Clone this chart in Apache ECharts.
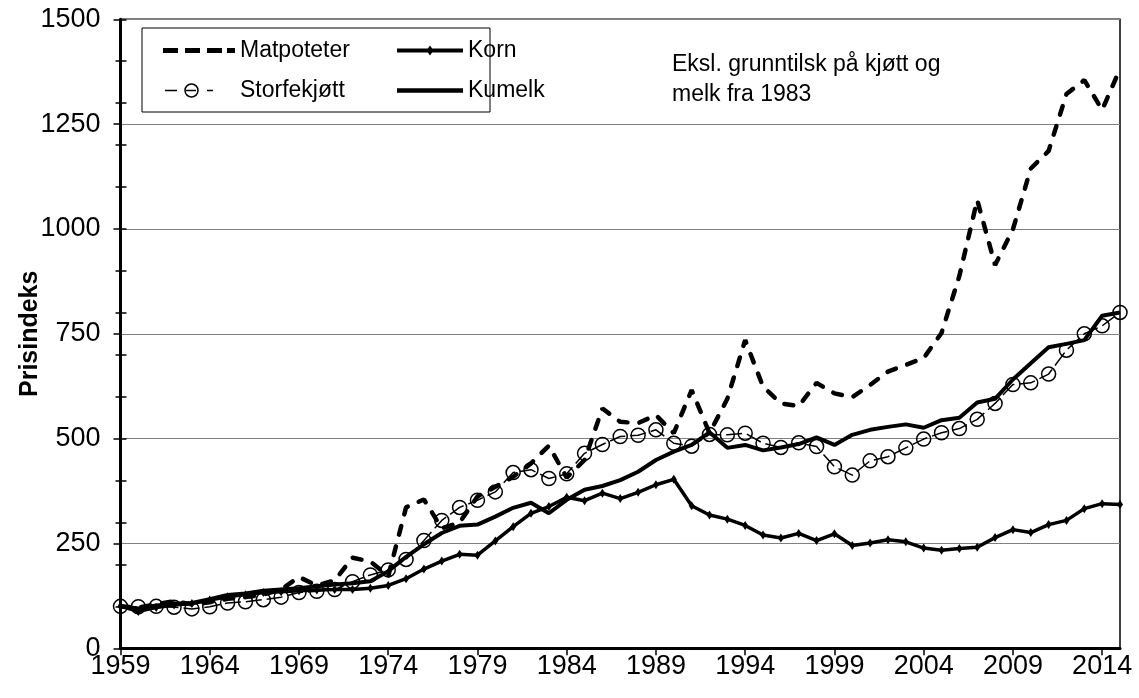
<!DOCTYPE html>
<html>
<head>
<meta charset="utf-8">
<script src="https://cdn.jsdelivr.net/npm/echarts@6/dist/echarts.min.js"></script>
<style>
  html, body { margin: 0; padding: 0; background: #fff; }
  #chart { width: 1139px; height: 698px; }
</style>
</head>
<body>
<div id="chart"></div>
<script>
// år 1959-2015
var years = [];
for (var y = 1959; y <= 2015; y++) years.push(String(y));

// prisindeks, 1959 = 100
var matpoteter = [100, 97, 105, 112, 105, 110, 118, 122, 128, 140,
  170, 150, 162, 216, 207, 172, 336, 355, 286, 300,
  362, 385, 409, 441, 483, 407, 449, 572, 540, 537,
  556, 513, 616, 513, 595, 735, 624, 584, 578, 633,
  608, 599, 628, 660, 676, 692, 752, 888, 1069, 914,
  999, 1144, 1186, 1322, 1355, 1284, 1382];
var korn = [100, 88, 97, 103, 107, 115, 123, 128, 133, 135,
  137, 139, 140, 140, 143, 150, 166, 189, 208, 224,
  222, 256, 290, 322, 338, 360, 352, 370, 357, 372,
  390, 403, 340, 318, 308, 293, 270, 263, 274, 257,
  273, 245, 251, 259, 254, 239, 234, 238, 241, 264,
  283, 276, 295, 305, 333, 345, 343];
var storfekjott = [100, 99, 100, 98, 94, 99, 108, 111, 116, 122,
  133, 136, 140, 159, 175, 187, 212, 257, 305, 336,
  353, 373, 419, 426, 405, 416, 465, 486, 505, 508,
  521, 489, 482, 510, 509, 513, 489, 479, 490, 481,
  433, 413, 447, 457, 478, 499, 514, 524, 546, 584,
  629, 633, 654, 711, 750, 769, 801];
var kumelk = [100, 95, 102, 106, 108, 117, 127, 131, 137, 140,
  143, 148, 152, 155, 160, 184, 218, 248, 275, 292,
  295, 314, 335, 347, 322, 354, 378, 387, 401, 421,
  449, 469, 485, 515, 478, 485, 472, 479, 487, 503,
  485, 509, 521, 528, 534, 526, 544, 550, 586, 595,
  641, 680, 718, 726, 735, 793, 801];

var font = 'Liberation Sans, Arial, sans-serif';

// legend-ikoner som i Excel-figuren (hjørnepunktene holder boksen fast)
var box72 = 'M0,0h0.01v0.01h-0.01z M72,20h-0.01v-0.01h0.01z ';
var box66 = 'M0,0h0.01v0.01h-0.01z M66,20h-0.01v-0.01h0.01z ';
var iconMat = 'path://' + box72 + 'M0,7.5h15v5h-15z M22,7.5h15v5h-15z M44,7.5h15v5h-15z M64,7.5h8v5h-8z';
var iconStorfe = 'path://' + box72 + 'M2,9.25h12v1.5h-12z ' +
  'M21.25,10a7.25,7.25 0 1,0 14.5,0a7.25,7.25 0 1,0 -14.5,0z ' +
  'M22.75,10a5.75,5.75 0 1,1 11.5,0a5.75,5.75 0 1,1 -11.5,0z ' +
  'M23,9.25h10v1.5h-10z M44,9.25h6v1.5h-6z';
var iconKorn = 'path://' + box66 + 'M0,8h66v4h-66z M33,5l3.5,5l-3.5,5l-3.5,-5z';
var iconKumelk = 'path://' + box66 + 'M0,7.75h66v4.5h-66z';

var chart = echarts.init(document.getElementById('chart'));

var legendBase = {
  orient: 'vertical',
  top: 39,
  padding: 0,
  itemHeight: 20,
  itemGap: 17,
  itemStyle: { color: '#000', borderWidth: 0 },
  textStyle: { color: '#000', fontSize: 23, fontFamily: font, lineHeight: 20 },
  selectedMode: false
};

chart.setOption({
  animation: false,
  backgroundColor: '#fff',
  grid: {
    left: 120.5, right: 19, top: 19.3, bottom: 49.7,
    outerBoundsMode: 'none',
    show: true, borderColor: '#000', borderWidth: 1.5
  },
  legend: [
    Object.assign({}, legendBase, {
      left: 163, itemWidth: 72,
      data: [{ name: 'Matpoteter', icon: iconMat }, { name: 'Storfekjøtt', icon: iconStorfe }]
    }),
    Object.assign({}, legendBase, {
      left: 397, itemWidth: 66,
      data: [{ name: 'Korn', icon: iconKorn }, { name: 'Kumelk', icon: iconKumelk }]
    })
  ],
  graphic: [
    {
      type: 'rect', z: 100,
      shape: { x: 142, y: 28, width: 348, height: 84 },
      style: { fill: 'none', stroke: '#000', lineWidth: 1 }
    },
    {
      type: 'text', z: 100, left: 672, top: 50,
      style: {
        text: 'Eksl. grunntilsk på kjøtt og\nmelk fra 1983',
        font: '23px ' + font, fill: '#000', lineHeight: 30
      }
    }
  ],
  xAxis: {
    type: 'category',
    data: years,
    boundaryGap: false,
    axisLine: { lineStyle: { color: '#000', width: 3 } },
    axisTick: { interval: 4, length: 7, lineStyle: { color: '#000', width: 1.5 } },
    axisLabel: { interval: 4, color: '#000', fontSize: 27, fontFamily: font, margin: 5 },
    splitLine: { show: false }
  },
  yAxis: [
    {
      type: 'value', min: 0, max: 1500, interval: 250,
      name: 'Prisindeks', nameLocation: 'middle', nameGap: 78, nameMoveOverlap: false,
      nameTextStyle: { color: '#000', fontSize: 25, fontWeight: 'bold', fontFamily: font },
      axisLine: { show: true, lineStyle: { color: '#000', width: 3 } },
      axisTick: { show: true, length: 7, lineStyle: { color: '#000', width: 1.5 } },
      axisLabel: {
        color: '#000', fontSize: 27, fontFamily: font, margin: 20,
        formatter: function (v) { return String(v); }
      },
      splitLine: { show: true, lineStyle: { color: '#808080', width: 1.2 } }
    },
    {
      type: 'value', min: 0, max: 1500, interval: 100, position: 'left',
      axisLine: { show: false },
      axisTick: { show: true, length: 5, lineStyle: { color: '#000', width: 1.5 } },
      axisLabel: { show: false },
      splitLine: { show: false }
    },
    {
      type: 'value', min: 0, max: 1500, interval: 100, position: 'left',
      axisLine: { show: false },
      axisTick: { show: true, inside: true, length: 6, lineStyle: { color: '#000', width: 1.5 } },
      axisLabel: { show: false },
      splitLine: { show: false }
    }
  ],
  series: [
    {
      name: 'Matpoteter', type: 'line', data: matpoteter,
      symbol: 'none',
      lineStyle: { color: '#000', width: 4.5, type: [9, 12], cap: 'round' },
      itemStyle: { color: '#000' }
    },
    {
      name: 'Korn', type: 'line', data: korn,
      symbol: 'diamond', symbolSize: [6, 9], showAllSymbol: true,
      lineStyle: { color: '#000', width: 3.5 },
      itemStyle: { color: '#000' }
    },
    {
      name: 'Storfekjøtt', type: 'line', data: storfekjott,
      symbol: 'circle', symbolSize: 14, showAllSymbol: true,
      lineStyle: { color: '#000', width: 1.5, type: [16, 5] },
      itemStyle: { color: 'transparent', borderColor: '#000', borderWidth: 1.5 }
    },
    {
      name: 'Kumelk', type: 'line', data: kumelk,
      symbol: 'none',
      lineStyle: { color: '#000', width: 4 },
      itemStyle: { color: '#000' }
    }
  ]
});
</script>
</body>
</html>
